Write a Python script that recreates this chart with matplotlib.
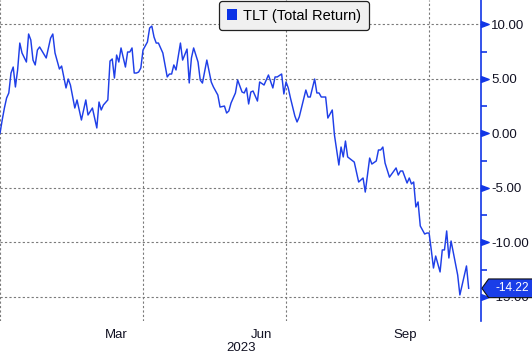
import matplotlib
matplotlib.use("Agg")
import matplotlib.pyplot as plt
from matplotlib.path import Path
from matplotlib.patches import Patch
from matplotlib.ticker import FixedLocator
import matplotlib.transforms as mtrans

plt.rcParams['font.family'] = ['Liberation Sans', 'DejaVu Sans']
plt.rcParams['axes.unicode_minus'] = False

# ---- data (trading-day index from start of 2023, cumulative total return %) ----
days = [0, 1, 2, 3, 4, 5, 6, 7, 8, 9,
        10, 12, 13, 14, 15, 16, 17, 18, 21, 23,
        24, 25, 27, 28, 30, 31, 32, 34, 35, 37,
        39, 40, 42, 44, 45, 46, 47, 49, 50, 51,
        52, 53, 54, 55, 57, 58, 59, 60, 61, 62,
        63, 64, 65, 67, 68, 69, 70, 71, 72, 74,
        76, 77, 78, 79, 80, 82, 83, 85, 86, 87,
        88, 90, 91, 92, 94, 96, 97, 99, 100, 102,
        103, 104, 105, 107, 108, 110, 111, 112, 113, 114,
        115, 117, 118, 120, 122, 124, 125, 126, 128, 129,
        130, 131, 132, 134, 135, 136, 137, 139, 140, 141,
        143, 144, 145, 146, 148, 149, 151, 152, 154, 155,
        156, 157, 158, 161, 163, 165, 166, 168, 169, 171,
        172, 173, 174, 175, 177, 180, 181, 182, 183, 185,
        186, 187, 188, 189, 190, 191, 193, 194, 195, 196,
        197, 198, 200, 201, 202, 203, 204, 205, 208, 209,
        212, 213]
values = [0.00, 1.22, 2.32, 3.24, 3.70, 5.53, 6.08, 4.25, 5.80, 8.28,
          7.37, 6.54, 9.11, 8.56, 6.72, 6.27, 7.64, 7.92, 6.91, 8.74,
          9.11, 7.37, 5.90, 6.17, 4.16, 4.98, 4.43, 2.32, 3.06, 1.22,
          3.06, 1.68, 2.32, 0.49, 2.87, 2.14, 2.60, 3.06, 6.63, 6.82,
          5.07, 7.18, 6.54, 7.83, 6.08, 7.46, 7.46, 7.83, 5.53, 5.53,
          5.62, 5.99, 7.64, 8.38, 9.66, 9.84, 8.83, 8.28, 8.28, 7.37,
          5.17, 5.44, 5.44, 6.27, 5.81, 8.28, 6.72, 7.73, 4.62, 6.91,
          7.83, 6.54, 4.89, 4.61, 6.72, 4.71, 4.25, 3.51, 2.41, 2.50,
          1.86, 2.05, 2.78, 3.70, 4.89, 3.79, 3.70, 4.16, 2.69, 3.79,
          3.88, 2.96, 4.71, 4.43, 5.35, 4.16, 5.17, 5.17, 5.44, 3.61,
          4.71, 4.16, 3.24, 1.59, 1.04, 1.50, 2.32, 3.97, 3.33, 3.33,
          4.98, 3.70, 3.70, 3.33, 3.33, 1.40, 2.14, -0.16, -2.91, -1.26,
          -2.17, -0.71, -2.17, -2.64, -4.47, -4.10, -5.39, -2.27, -2.82, -2.54,
          -1.53, -1.53, -1.26, -2.73, -4.02, -3.18, -3.83, -3.46, -3.46, -4.56,
          -4.10, -4.65, -4.47, -6.76, -6.30, -8.50, -9.24, -9.15, -9.15, -10.70,
          -12.36, -11.26, -12.72, -10.70, -10.70, -8.96, -11.44, -9.88, -13.00, -14.83,
          -12.17, -14.22]

series_name = "TLT (Total Return)"
quarter_starts = [0, 65, 130, 195]          # vertical grid lines
month_label_pos = [53, 119, 184]
month_labels = ["Mar", "Jun", "Sep"]
year_label = "2023"
year_label_pos = 109.5
y_major = [-15, -10, -5, 0, 5, 10]
y_minor = [-12.5, -7.5, -2.5, 2.5, 7.5]

BLUE = '#1f3fe8'
AXBLUE = '#1236e6'
GRID = '#7a7a7a'
TXT = '#111122'

fig = plt.figure(figsize=(5.32, 3.58), dpi=100)
ax = fig.add_axes([0, 37 / 358, 481 / 532, 321 / 358])

ax.plot(days, values, color=BLUE, lw=1.05, zorder=3)

ax.set_xlim(0, 218.6)
ax.set_ylim(-17.22, 12.23)

# spines
for s in ['left', 'top', 'bottom']:
    ax.spines[s].set_visible(False)
ax.spines['right'].set_color(AXBLUE)
ax.spines['right'].set_linewidth(1.2)

# y axis on right
ax.yaxis.tick_right()
ax.yaxis.set_major_locator(FixedLocator(y_major))
ax.yaxis.set_minor_locator(FixedLocator(y_minor))
ax.set_yticklabels([f"{v:.2f}" for v in y_major])
ax.tick_params(axis='y', which='major', length=0, pad=7.5, labelsize=9.5, labelcolor=TXT)
ax.tick_params(axis='y', which='minor', length=4, width=1.2, color=AXBLUE, direction='out')

# triangle major tick markers
tri = Path([(0, -0.6), (0, 0.6), (1.6, 0), (0, -0.6)], closed=True)
ytrans = mtrans.blended_transform_factory(ax.transAxes, ax.transData)
ax.plot([1] * len(y_major), y_major, linestyle='none', marker=tri, markersize=11,
        color=AXBLUE, transform=ytrans, clip_on=False, zorder=5)

# x axis
ax.set_xticks(month_label_pos)
ax.set_xticklabels(month_labels)
ax.tick_params(axis='x', which='major', length=0, pad=6, labelsize=9.5, labelcolor=TXT)
ax.set_xticks(quarter_starts, minor=True)
ax.tick_params(axis='x', which='minor', length=0)
xtrans = mtrans.blended_transform_factory(ax.transData, ax.transAxes)
ax.text(year_label_pos, -0.085, year_label, transform=xtrans, ha='center', va='center',
        fontsize=9.5, color=TXT)

# grid
ax.grid(True, which='major', axis='y', color=GRID, lw=0.8, linestyle=(0, (2, 2)))
ax.grid(True, which='minor', axis='x', color=GRID, lw=0.8, linestyle=(0, (2, 2)))
ax.grid(False, which='major', axis='x')
ax.set_axisbelow(True)

# legend
leg = ax.legend(handles=[Patch(facecolor='#0a32e6', edgecolor='none', label=series_name)],
                loc='upper center', bbox_to_anchor=(0.611, 1.0), fontsize=10.5,
                handlelength=0.75, handleheight=0.75, handletextpad=0.4,
                borderpad=0.5, borderaxespad=0.1, frameon=True, fancybox=True,
                framealpha=1, facecolor='#f0f0f0', edgecolor='#222222')
leg.get_frame().set_linewidth(0.9)
leg.set_zorder(10)


# last value tag
def tag_box(x0, y0, width, height, mutation_size):
    padx = 0.55 * mutation_size
    pady = 0.28 * mutation_size
    x0 -= padx
    y0 -= pady
    w = width + 2 * padx
    h = height + 2 * pady
    tip = h * 0.36
    verts = [(x0, y0), (x0 + w, y0), (x0 + w, y0 + h), (x0, y0 + h),
             (x0 - tip, y0 + h / 2), (x0, y0)]
    return Path(verts, closed=True)


last = values[-1]
ax.annotate(f"{last:.2f}", xy=(1, last), xycoords=ytrans,
            xytext=(10.2, 0), textcoords='offset points', ha='left', va='center',
            fontsize=8.6, color='white', annotation_clip=False, zorder=12,
            bbox=dict(boxstyle=tag_box, fc='#1a3ee8', ec='#111111', lw=0.8))

fig.savefig("out.png", dpi=100)
